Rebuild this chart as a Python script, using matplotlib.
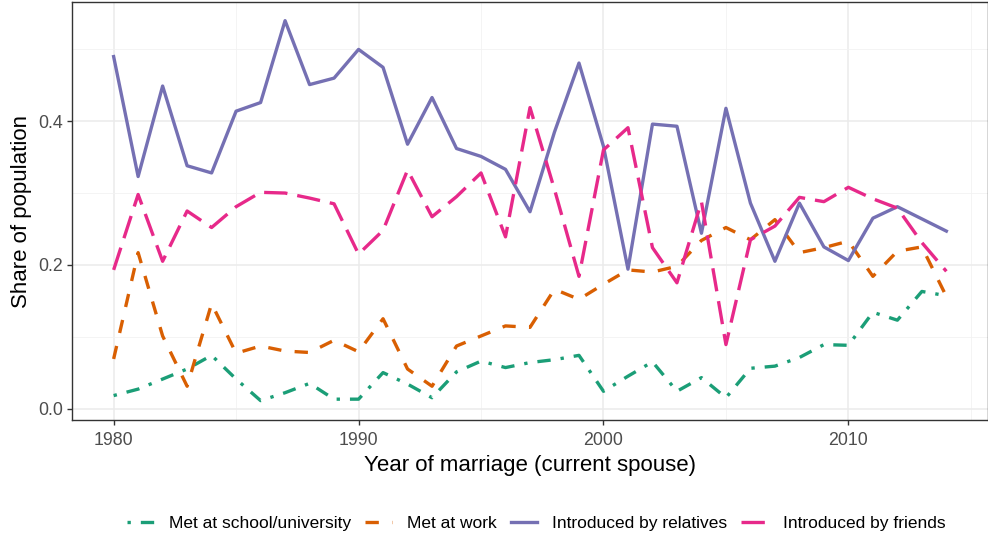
import matplotlib.pyplot as plt
from matplotlib.ticker import MultipleLocator

plt.rcParams['font.family'] = ['Liberation Sans', 'DejaVu Sans']

years = list(range(1980, 2015))

school = [0.018, 0.027, 0.041, 0.055, 0.074, 0.041, 0.011, 0.022, 0.035, 0.013,
          0.013, 0.050, 0.034, 0.015, 0.051, 0.066, 0.057, 0.064, 0.068, 0.074,
          0.024, 0.045, 0.065, 0.024, 0.043, 0.015, 0.056, 0.059, 0.071, 0.089,
          0.088, 0.134, 0.123, 0.163, 0.157]

work = [0.069, 0.217, 0.101, 0.031, 0.146, 0.077, 0.087, 0.080, 0.078, 0.095,
        0.079, 0.125, 0.055, 0.031, 0.087, 0.101, 0.115, 0.113, 0.166, 0.152,
        0.173, 0.193, 0.190, 0.198, 0.234, 0.252, 0.235, 0.263, 0.217, 0.224,
        0.233, 0.184, 0.219, 0.225, 0.156]

relatives = [0.490, 0.323, 0.449, 0.338, 0.328, 0.414, 0.426, 0.540, 0.451, 0.460,
             0.500, 0.475, 0.368, 0.433, 0.362, 0.351, 0.333, 0.274, 0.385, 0.481,
             0.365, 0.194, 0.396, 0.393, 0.244, 0.418, 0.286, 0.205, 0.286, 0.225,
             0.206, 0.265, 0.281, 0.264, 0.247]

friends = [0.193, 0.298, 0.205, 0.275, 0.252, 0.281, 0.301, 0.300, 0.293, 0.285,
           0.215, 0.248, 0.332, 0.267, 0.295, 0.328, 0.239, 0.419, 0.305, 0.184,
           0.360, 0.391, 0.224, 0.175, 0.288, 0.089, 0.235, 0.254, 0.294, 0.288,
           0.308, 0.292, 0.279, 0.231, 0.191]

# ggplot-like linetypes: dotdash, dashed, solid, longdash
series = [
    ("Met at school/university", school, "#1B9E77", (0, (1, 3, 4, 3))),
    ("Met at work", work, "#D95F02", (0, (4, 4))),
    ("Introduced by relatives", relatives, "#7570B3", "-"),
    ("Introduced by friends", friends, "#E7298A", (0, (7, 3))),
]

fig = plt.figure(figsize=(9.88, 5.37), dpi=100)
ax = fig.add_axes([72 / 988, 1 - 420 / 537, 916 / 988, 418 / 537])

for name, vals, col, ls in series:
    ax.plot(years, vals, color=col, linestyle=ls, linewidth=2.4, label=name)

ax.set_xlim(1978.3, 2015.7)
ax.set_ylim(-0.016, 0.566)
ax.xaxis.set_major_locator(MultipleLocator(10))
ax.xaxis.set_minor_locator(MultipleLocator(5))
ax.yaxis.set_minor_locator(MultipleLocator(0.1))
ax.set_yticks([0.0, 0.2, 0.4])
ax.set_yticklabels(["0.0", "0.2", "0.4"])
ax.grid(which='major', color='#ebebeb', linewidth=1.1)
ax.grid(which='minor', color='#f2f2f2', linewidth=0.6)
ax.set_axisbelow(True)
ax.tick_params(which='major', length=3.6, width=1.0, color='#333333', pad=3,
               labelsize=12.8, labelcolor='#4d4d4d')
ax.tick_params(axis='x', pad=5)
ax.tick_params(which='minor', length=0)
for s in ax.spines.values():
    s.set_color('#333333')
    s.set_linewidth(1.0)

ax.set_xlabel("Year of marriage (current spouse)", fontsize=16, labelpad=4)
ax.set_ylabel("Share of population", fontsize=16, labelpad=4)

fig.legend(loc='center', bbox_to_anchor=(536.5 / 988, 1 - 523 / 537), ncol=4,
           frameon=False, fontsize=12.5, handlelength=1.55, columnspacing=0.8,
           handletextpad=0.86, borderpad=0, borderaxespad=0)

fig.savefig("out.png", dpi=100)
